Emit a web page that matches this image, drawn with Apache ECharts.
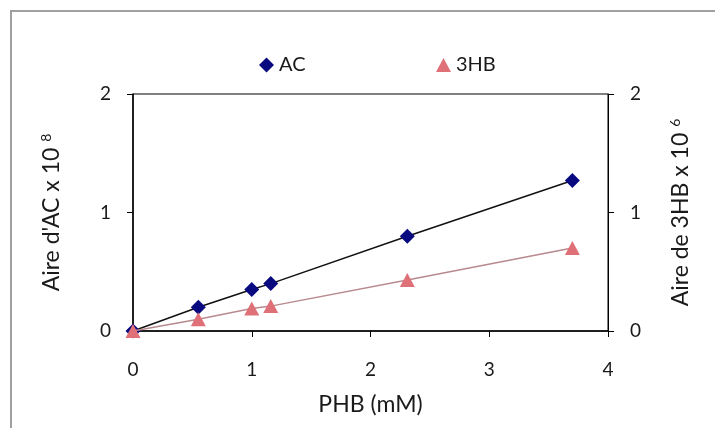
<!DOCTYPE html>
<html>
<head>
<meta charset="utf-8">
<script src="https://cdn.jsdelivr.net/npm/echarts@6/dist/echarts.min.js"></script>
<style>
  html, body { margin: 0; padding: 0; background: #fff; }
  #chart { width: 715px; height: 428px; }
</style>
</head>
<body>
<div id="chart"></div>
<script>
// concentrations PHB (mM)
const phb = [0, 0.55, 1.0, 1.16, 2.31, 3.70];
// aire AC (x 10^8)
const aireAC = [0, 0.20, 0.35, 0.40, 0.80, 1.27];
// aire 3HB (x 10^6)
const aire3HB = [0, 0.10, 0.19, 0.21, 0.43, 0.70];

const toPairs = (xs, ys) => xs.map((x, i) => [x, ys[i]]);

const chart = echarts.init(document.getElementById('chart'));
const font = 'Lato, "Open Sans", sans-serif';
const supStyle = { fontSize: 14, verticalAlign: 'top', padding: [0, 0, 12, 0], fontFamily: font, color: '#1a1a1a' };

const option = {
  animation: false,
  textStyle: { fontFamily: font },
  graphic: [{
    type: 'rect',
    shape: { x: 11, y: 11, width: 720, height: 430 },
    style: { fill: 'none', stroke: '#a0a0a0', lineWidth: 2 }
  }],
  legend: [
    {
      data: [{ name: 'AC', icon: 'diamond' }],
      left: 254, top: 50, itemWidth: 15, itemHeight: 15, itemGap: 0,
      textStyle: { fontSize: 20, color: '#1a1a1a', fontFamily: font }
    },
    {
      data: [{ name: '3HB', icon: 'triangle' }],
      left: 431, top: 50, itemWidth: 15, itemHeight: 14,
      textStyle: { fontSize: 20, color: '#1a1a1a', fontFamily: font }
    }
  ],
  grid: {
    left: 133, right: 107, top: 94, bottom: 97,
    show: true, borderColor: '#000', borderWidth: 1, backgroundColor: 'transparent'
  },
  xAxis: {
    type: 'value', min: 0, max: 4, interval: 1,
    name: 'PHB (mM)', nameLocation: 'middle', nameGap: 62,
    nameTextStyle: { fontSize: 23, color: '#1a1a1a', fontFamily: font },
    axisLine: { lineStyle: { color: '#000', width: 1.5 } },
    axisTick: { show: true, length: 6, lineStyle: { color: '#000' } },
    axisLabel: { fontSize: 19, color: '#1a1a1a', margin: 29, fontFamily: font },
    splitLine: { show: false }
  },
  yAxis: [
    {
      type: 'value', min: 0, max: 2, interval: 1, position: 'left',
      name: "Aire d'AC x 10 {sup|8}", nameLocation: 'middle', nameGap: 68, nameRotate: 90,
      nameTextStyle: { fontSize: 23, color: '#1a1a1a', fontFamily: font, rich: { sup: supStyle } },
      axisLine: { show: true, lineStyle: { color: '#000', width: 1.5 } },
      axisTick: { show: true, length: 6, lineStyle: { color: '#000' } },
      axisLabel: { fontSize: 19, color: '#1a1a1a', margin: 22, fontFamily: font },
      splitLine: { show: false }
    },
    {
      type: 'value', min: 0, max: 2, interval: 1, position: 'right',
      name: 'Aire de 3HB x 10 {sup|6}', nameLocation: 'middle', nameGap: 60, nameRotate: 90,
      nameTextStyle: { fontSize: 23, color: '#1a1a1a', fontFamily: font, rich: { sup: supStyle } },
      axisLine: { show: true, lineStyle: { color: '#000', width: 1 } },
      axisTick: { show: true, length: 6, lineStyle: { color: '#000' } },
      axisLabel: { fontSize: 19, color: '#1a1a1a', margin: 22, fontFamily: font },
      splitLine: { show: false }
    }
  ],
  series: [
    {
      name: 'AC', type: 'line', yAxisIndex: 0,
      data: toPairs(phb, aireAC),
      symbol: 'diamond', symbolSize: 15,
      itemStyle: { color: '#0a0a80' },
      lineStyle: { color: '#111', width: 1.5 },
      z: 3
    },
    {
      name: '3HB', type: 'line', yAxisIndex: 1,
      data: toPairs(phb, aire3HB),
      symbol: 'triangle', symbolSize: [15, 14],
      itemStyle: { color: '#e07078' },
      lineStyle: { color: '#b88a8e', width: 1.5 },
      z: 4
    }
  ]
};

chart.setOption(option);
</script>
</body>
</html>
